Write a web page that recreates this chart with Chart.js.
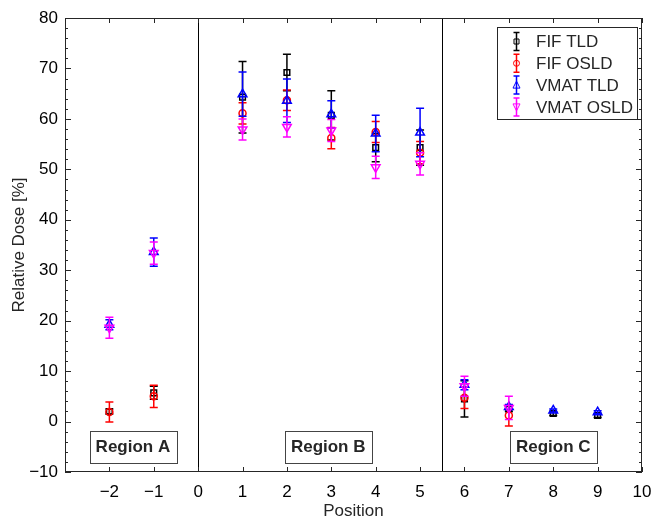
<!DOCTYPE html>
<html>
<head>
<meta charset="utf-8">
<title>Relative Dose by Position</title>
<script src="https://cdn.jsdelivr.net/npm/chart.js@4.4.1/dist/chart.umd.min.js"></script>
<style>
  body { margin: 0; background: #fff; }
  #wrap { width: 653px; height: 520px; }
</style>
</head>
<body>
<div id="wrap"><canvas id="doseChart" width="653" height="520"></canvas></div>
<script>
// measurement positions
const positions = [-2, -1, 1, 2, 3, 4, 5, 6, 7, 8, 9];

// relative dose [%] and error for each detector / plan
const fifTld = [2.0, 5.7, 64.3, 69.2, 60.7, 54.3, 54.3, 4.5, 2.5, 1.6, 1.2];
const fifTldErr = [0.5, 1.3, 7.1, 3.6, 4.9, 2.8, 3.5, 3.6, 0.5, 0.4, 0.4];

const fifOsld = [1.9, 5.0, 61.1, 63.7, 56.2, 57.4, 53.3, 4.7, 1.2, null, null];
const fifOsldErr = [2.0, 2.2, 2.1, 2.05, 2.1, 2.1, 2.2, 2.1, 2.1, null, null];

const vmatTld = [19.2, 33.6, 64.9, 63.6, 60.9, 57.1, 57.3, 7.3, 2.9, 2.2, 1.85];
const vmatTldErr = [1.0, 2.8, 4.4, 4.3, 2.7, 3.6, 4.8, 1.0, 0.5, 0.3, 0.3];

const vmatOsld = [18.6, 33.4, 57.9, 58.4, 57.7, 50.4, 51.1, 7.0, 2.7, null, null];
const vmatOsldErr = [2.1, 2.2, 2.1, 2.0, 2.2, 2.2, 2.2, 2.0, 2.3, null, null];

// region boundaries and labels
const regionBounds = [0, 5.5];
const regionLabels = ['Region A', 'Region B', 'Region C'];
const regionX = [-1.47, 2.93, 8.0];
const regionY = -5;

const FONT = '"Liberation Sans", Arial, Helvetica, sans-serif';
const TEXT = '#262626';

const toPoints = (vals) => positions.map((p, i) => ({ x: p, y: vals[i] })).filter(d => d.y !== null);
const toErr = (vals, errs) => errs.filter((e, i) => vals[i] !== null);

const series = [
  { label: 'FIF TLD', vals: fifTld, errs: fifTldErr, color: '#000000', style: 'rect', radius: 4, rot: 0, order: 4 },
  { label: 'FIF OSLD', vals: fifOsld, errs: fifOsldErr, color: '#ff0000', style: 'circle', radius: 3.5, rot: 0, order: 3 },
  { label: 'VMAT TLD', vals: vmatTld, errs: vmatTldErr, color: '#0000ff', style: 'triangle', radius: 5, rot: 0, order: 2 },
  { label: 'VMAT OSLD', vals: vmatOsld, errs: vmatOsldErr, color: '#ff00ff', style: 'triangle', radius: 5, rot: 180, order: 1 },
];

// error bars, drawn just before each dataset's markers
const errorBars = {
  id: 'errorBars',
  beforeDatasetDraw(chart, args) {
    const ds = chart.data.datasets[args.index];
    const { ctx, scales: { x, y } } = chart;
    ctx.save();
    ctx.strokeStyle = ds.borderColor;
    ctx.lineWidth = 1.5;
    ds.data.forEach((d, i) => {
      const e = ds.errors[i];
      const px = x.getPixelForValue(d.x);
      const top = y.getPixelForValue(d.y + e);
      const bot = y.getPixelForValue(d.y - e);
      ctx.beginPath();
      ctx.moveTo(px, top); ctx.lineTo(px, bot);
      ctx.moveTo(px - 4, top); ctx.lineTo(px + 4, top);
      ctx.moveTo(px - 4, bot); ctx.lineTo(px + 4, bot);
      ctx.stroke();
    });
    ctx.restore();
  }
};

// box, inward ticks, region lines and labels
const frame = {
  id: 'frame',
  beforeDatasetsDraw(chart) {
    const { ctx, chartArea: a, scales: { x, y } } = chart;
    ctx.save();
    ctx.strokeStyle = '#000';
    ctx.lineWidth = 1;
    regionBounds.forEach(b => {
      const px = Math.round(x.getPixelForValue(b)) + 0.5;
      ctx.beginPath(); ctx.moveTo(px, a.top); ctx.lineTo(px, a.bottom); ctx.stroke();
    });
    ctx.font = 'bold 17px ' + FONT;
    ctx.textAlign = 'center';
    ctx.textBaseline = 'middle';
    regionLabels.forEach((t, i) => {
      const cx = x.getPixelForValue(regionX[i]);
      const cy = y.getPixelForValue(regionY);
      const w = ctx.measureText(t).width + 12;
      ctx.fillStyle = '#fff';
      ctx.fillRect(cx - w / 2, cy - 16, w, 32);
      ctx.strokeStyle = '#444';
      ctx.strokeRect(Math.round(cx - w / 2) + 0.5, Math.round(cy - 16) + 0.5, Math.round(w), 32);
      ctx.fillStyle = TEXT;
      ctx.fillText(t, cx, cy + 1);
    });
    ctx.restore();
  },
  afterDraw(chart) {
    const { ctx, chartArea: a, scales: { x, y } } = chart;
    ctx.save();
    ctx.strokeStyle = TEXT;
    ctx.lineWidth = 1;
    ctx.beginPath();
    for (let v = -3; v <= 10; v++) {
      const px = Math.round(x.getPixelForValue(v)) + 0.5;
      ctx.moveTo(px, a.bottom); ctx.lineTo(px, a.bottom - 5);
      ctx.moveTo(px, a.top); ctx.lineTo(px, a.top + 5);
    }
    for (let v = -10; v <= 80; v += 2) {
      const py = Math.round(y.getPixelForValue(v)) + 0.5;
      const len = v % 10 === 0 ? 6 : 3;
      ctx.moveTo(a.left, py); ctx.lineTo(a.left + len, py);
      ctx.moveTo(a.right, py); ctx.lineTo(a.right - len, py);
    }
    ctx.stroke();
    ctx.strokeRect(Math.round(a.left) + 0.5, Math.round(a.top) + 0.5, Math.round(a.right - a.left) - 1, Math.round(a.bottom - a.top) - 1);

    // legend
    const lx = 497, ly = 27, lw = 140, lh = 92;
    ctx.fillStyle = '#fff';
    ctx.fillRect(lx, ly, lw, lh);
    ctx.strokeStyle = TEXT;
    ctx.strokeRect(lx + 0.5, ly + 0.5, lw, lh);
    ctx.font = '17px ' + FONT;
    ctx.textAlign = 'left';
    ctx.textBaseline = 'middle';
    series.forEach((s, i) => {
      const cy = 41.5 + i * 21.8;
      const cx = 516.5;
      ctx.strokeStyle = s.color;
      ctx.lineWidth = 1.5;
      ctx.beginPath();
      ctx.moveTo(cx, cy - 9); ctx.lineTo(cx, cy + 9);
      ctx.moveTo(cx - 3, cy - 9); ctx.lineTo(cx + 3, cy - 9);
      ctx.moveTo(cx - 3, cy + 9); ctx.lineTo(cx + 3, cy + 9);
      ctx.stroke();
      ctx.lineWidth = 1;
      ctx.beginPath();
      if (s.style === 'rect') {
        ctx.rect(cx - 2.5, cy - 2.5, 5, 5);
      } else if (s.style === 'circle') {
        ctx.arc(cx, cy, 3, 0, Math.PI * 2);
      } else {
        const d = s.rot ? -1 : 1;
        ctx.moveTo(cx, cy - 4 * d);
        ctx.lineTo(cx - 3.5, cy + 3 * d);
        ctx.lineTo(cx + 3.5, cy + 3 * d);
        ctx.closePath();
      }
      ctx.stroke();
      ctx.fillStyle = TEXT;
      ctx.fillText(s.label, 536, cy + 1);
    });
    ctx.restore();
  }
};

const ctx = document.getElementById('doseChart').getContext('2d');
const doseChart = new Chart(ctx, {
  type: 'scatter',
  data: {
    datasets: series.map(s => ({
      label: s.label,
      data: toPoints(s.vals),
      errors: toErr(s.vals, s.errs),
      borderColor: s.color,
      backgroundColor: 'rgba(0,0,0,0)',
      pointStyle: s.style,
      pointRadius: s.radius,
      pointRotation: s.rot,
      pointBorderWidth: 1.5,
      showLine: false,
      order: s.order,
    })),
  },
  options: {
    responsive: false,
    animation: false,
    devicePixelRatio: 1,
    layout: { padding: { left: 0, right: 11, top: 18, bottom: 0 } },
    plugins: {
      legend: { display: false },
      tooltip: { enabled: false },
    },
    scales: {
      x: {
        type: 'linear',
        min: -3,
        max: 10,
        afterFit: (s) => { s.height = 48; s.paddingRight = 0; s.paddingLeft = 0; },
        grid: { display: false, drawTicks: false },
        border: { display: false },
        ticks: {
          stepSize: 1,
          padding: 10,
          color: '#000',
          font: { family: FONT, size: 17 },
          callback: (v) => v === -3 ? '' : (v < 0 ? '\u2212' + Math.abs(v) : v),
        },
        title: {
          display: true,
          text: 'Position',
          color: TEXT,
          padding: 0,
          font: { family: FONT, size: 17, lineHeight: 1 },
        },
      },
      y: {
        min: -10,
        max: 80,
        afterFit: (s) => { s.width = 65; s.paddingTop = 0; s.paddingBottom = 0; },
        grid: { display: false, drawTicks: false },
        border: { display: false },
        ticks: {
          stepSize: 10,
          padding: 7,
          color: '#000',
          font: { family: FONT, size: 17 },
          callback: (v) => v < 0 ? '\u2212' + Math.abs(v) : v,
        },
        title: {
          display: true,
          text: 'Relative Dose [%]',
          color: TEXT,
          padding: { top: 11, bottom: 0 },
          font: { family: FONT, size: 17, lineHeight: 1 },
        },
      },
    },
  },
  plugins: [frame, errorBars],
});
</script>
</body>
</html>
